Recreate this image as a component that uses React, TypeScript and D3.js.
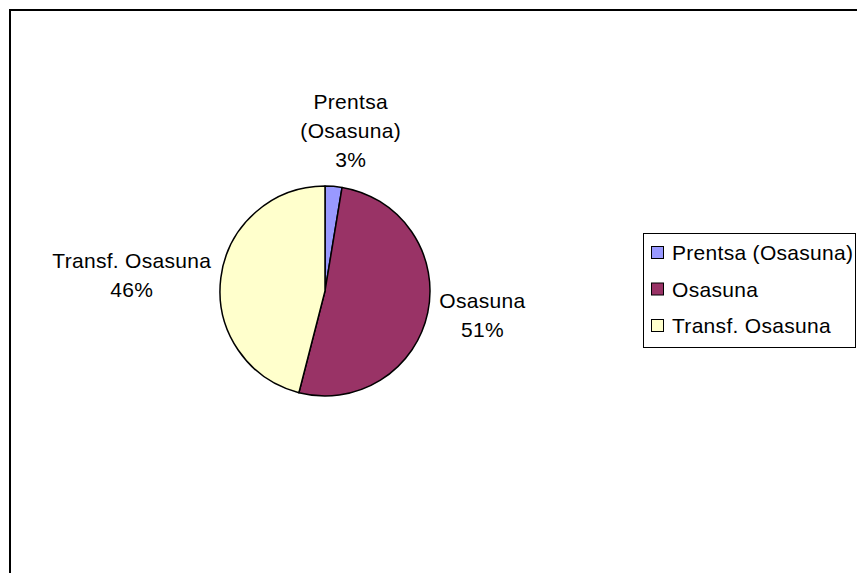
import React, { useEffect, useRef } from 'react';
import * as d3 from 'd3';

// slices, clockwise from 12 o'clock
const categories = ['Prentsa (Osasuna)', 'Osasuna', 'Transf. Osasuna'];
const values = [2.6, 51.4, 46.0];
const labelLines = [['Prentsa', '(Osasuna)'], ['Osasuna'], ['Transf. Osasuna']];
const colors = ['#9999FF', '#993366', '#FFFFCC'];

// nudges for the data labels, relative to the arc anchor
const labelNudge: [number, number][] = [[15, -51], [29, -10], [-63, -7]];

const W = 857;
const H = 573;
const FONT = '"Liberation Sans", Arial, sans-serif';

export default function App() {
  const ref = useRef<SVGSVGElement>(null);

  useEffect(() => {
    const svg = d3.select(ref.current);
    svg.selectAll('*').remove();

    // outer chart frame
    svg.append('rect')
      .attr('x', 10).attr('y', 10)
      .attr('width', W + 20).attr('height', H + 20)
      .attr('fill', '#fff')
      .attr('stroke', '#000')
      .attr('stroke-width', 2);

    const cx = 325, cy = 291, r = 105;
    const total = d3.sum(values);

    const pie = d3.pie<number>().sort(null).value(d => d);
    const arcs = pie(values);
    const arc = d3.arc<d3.PieArcDatum<number>>().innerRadius(0).outerRadius(r);

    const g = svg.append('g').attr('transform', `translate(${cx},${cy})`);
    g.selectAll('path')
      .data(arcs)
      .enter()
      .append('path')
      .attr('d', arc)
      .attr('fill', (d, i) => colors[i])
      .attr('stroke', '#000')
      .attr('stroke-width', 1.5)
      .attr('stroke-linejoin', 'round');

    // data labels
    const lineH = 29;
    arcs.forEach((a, i) => {
      const mid = (a.startAngle + a.endAngle) / 2;
      const ax = Math.sin(mid) * r * 1.25 + labelNudge[i][0];
      const ay = -Math.cos(mid) * r * 1.25 + labelNudge[i][1];
      const lines = [...labelLines[i], `${Math.round((values[i] / total) * 100)}%`];
      const t = g.append('text')
        .attr('text-anchor', 'middle')
        .style('font-family', FONT)
        .style('font-size', '21px')
        .style('letter-spacing', '0.3px')
        .attr('fill', '#000');
      lines.forEach((s, k) => {
        t.append('tspan').attr('x', ax).attr('y', ay + k * lineH).text(s);
      });
    });

    // legend
    const lx = 643, ly = 233, lw = 212, lh = 114;
    const leg = svg.append('g');
    leg.append('rect')
      .attr('x', lx + 0.5).attr('y', ly + 0.5)
      .attr('width', lw).attr('height', lh)
      .attr('fill', '#fff')
      .attr('stroke', '#000')
      .attr('stroke-width', 1);

    const rowY = d3.scalePoint<string>().domain(categories).range([ly + 27, ly + 100]);
    categories.forEach((c, i) => {
      const y = rowY(c) as number;
      leg.append('rect')
        .attr('x', lx + 8.5).attr('y', y - 13.5)
        .attr('width', 12).attr('height', 12)
        .attr('fill', colors[i])
        .attr('stroke', '#000')
        .attr('stroke-width', 1);
      leg.append('text')
        .attr('x', lx + 29).attr('y', y)
        .style('font-family', FONT)
        .style('font-size', '21px')
        .style('letter-spacing', '0.3px')
        .attr('fill', '#000')
        .text(c);
    });
  }, []);

  return (
    <svg
      ref={ref}
      width={W}
      height={H}
      style={{ position: 'absolute', left: 0, top: 0, background: '#fff' }}
    />
  );
}
